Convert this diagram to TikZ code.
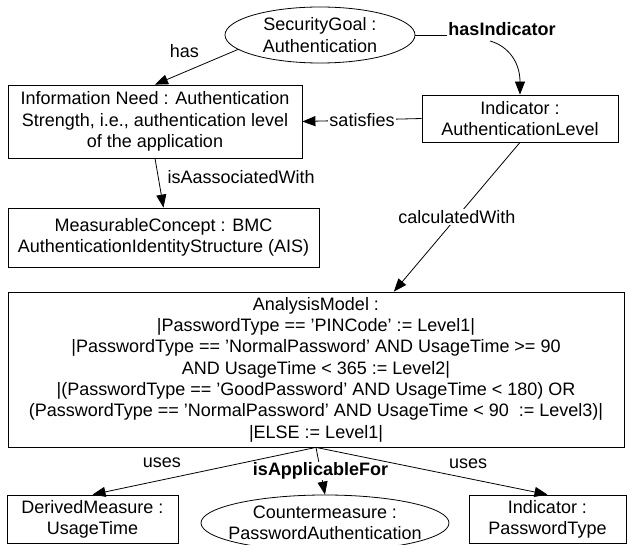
\documentclass[tikz,border=0pt]{standalone}
\usepackage{fontspec}
\setmainfont{Liberation Sans}
\usetikzlibrary{arrows.meta,shapes.geometric}
\begin{document}
\begin{tikzpicture}[x=1pt,y=-1pt,
  every node/.style={font=\fontsize{18}{21.3}\selectfont, align=center},
  box/.style={draw, line width=0.8pt, rectangle, inner sep=0pt},
  oval/.style={draw, line width=0.8pt, ellipse, inner sep=0pt},
  arr/.style={line width=0.8pt, -{Triangle[length=13pt,width=10pt]}},
  conn/.style={line width=0.8pt},
  lbl/.style={inner sep=1pt},
  lblw/.style={inner sep=1pt, fill=white},
  boldlbl/.style={font=\fontsize{18}{21.3}\selectfont\bfseries}
]
\useasboundingbox (0,0) rectangle (627,545);

\node[oval, minimum width=190pt, minimum height=56pt] (sg) at (320,35) {SecurityGoal :\\Authentication};
\node[box, minimum width=294pt, minimum height=73pt] (info) at (155,121.5) {Information Need : Authentication\\Strength, i.e., authentication level\\of the application};
\node[box, minimum width=196pt, minimum height=47pt] (ind1) at (520,118.5) {Indicator :\\AuthenticationLevel};
\node[box, minimum width=311pt, minimum height=59pt] (mc) at (163.5,237.5) {MeasurableConcept : BMC\\AuthenticationIdentityStructure (AIS)};
\node[box, minimum width=616pt, minimum height=155pt] (am) at (316,369.5) {AnalysisModel :\\
|PasswordType == 'PINCode' := Level1|\\
|PasswordType == 'NormalPassword' AND UsageTime >= 90\\
AND UsageTime < 365 := Level2|\\
|(PasswordType == 'GoodPassword' AND UsageTime < 180) OR\\
(PasswordType == 'NormalPassword' AND UsageTime < 90\ \ := Level3)|\\
|ELSE := Level1|};
\node[box, minimum width=171pt, minimum height=48pt] (dm) at (92.5,519) {DerivedMeasure :\\UsageTime};
\node[oval, minimum width=248pt, minimum height=56pt, inner xsep=-10pt, inner ysep=1pt] (cm) at (325,523) {Countermeasure :\\PasswordAuthentication};
\node[box, minimum width=157pt, minimum height=48pt] (ind2) at (547.5,519) {Indicator :\\PasswordType};

% top edges
\draw[arr] (sg.190) -- node[lbl, pos=.55, xshift=-8pt, yshift=18pt] {has} (info.north);
\node[lbl, boldlbl] (hi) at (502,29) {hasIndicator};
\draw[conn] (sg.east) -- (sg.east -| hi.west);
\draw[arr] ([xshift=-12pt,yshift=-12pt]hi.center) .. controls (508,46) and (520,62) .. (ind1.north);
\draw[arr] (ind1.west) -- node[lblw] {satisfies} (info.east);
\draw[arr] (info.south) -- node[lbl, pos=.38, anchor=west, xshift=8pt] {isAassociatedWith} (mc.north);
\draw[arr] (ind1.south) -- node[lblw] {calculatedWith} (am.45.5);

% bottom edges
\draw[arr] (am.south) -- node[lblw, boldlbl] {isApplicableFor} (cm.north);
\draw[arr] (am.south) -- node[lbl, pos=.69, yshift=17pt] {uses} (dm.north);
\draw[arr] (am.south) -- node[lbl, pos=.657, yshift=15pt] {uses} (ind2.north);
\end{tikzpicture}
\end{document}
